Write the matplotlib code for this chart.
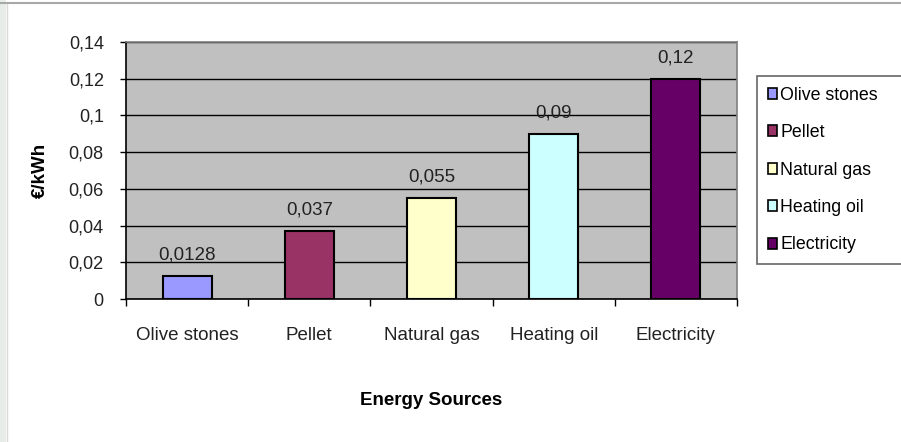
import matplotlib.pyplot as plt
import matplotlib.patches as mpatches
import numpy as np

plt.rcParams['font.family'] = ['Liberation Sans', 'DejaVu Sans']

# Cost per kWh for each energy source
sources = ["Olive stones", "Pellet", "Natural gas", "Heating oil", "Electricity"]
costs = [0.0128, 0.037, 0.055, 0.09, 0.12]
colors = ["#9999FF", "#993366", "#FFFFCC", "#CCFFFF", "#660066"]
y_ticks = [0, 0.02, 0.04, 0.06, 0.08, 0.1, 0.12, 0.14]


def comma(v):
    s = ("%g" % v).replace(".", ",")
    return s


fig = plt.figure(figsize=(9.01, 4.42), dpi=100)
fig.patch.set_facecolor("white")

# thin frame around the chart object
fig.add_artist(mpatches.Rectangle((0, 0), 6 / 901, 1, transform=fig.transFigure,
                                  facecolor="#E8ECE8", edgecolor="none"))
fig.add_artist(plt.Line2D([6.5 / 901, 6.5 / 901], [0, 1 - 3 / 442], transform=fig.transFigure,
                          color="#D8D8D8", lw=1))
fig.add_artist(plt.Line2D([0, 1], [1 - 2.5 / 442, 1 - 2.5 / 442], transform=fig.transFigure,
                          color="#A8A8A8", lw=1.5))

ax = fig.add_axes([126 / 901, 1 - 299 / 442, (737 - 126) / 901, (299 - 42) / 442])
ax.set_facecolor("#C0C0C0")

x = np.arange(len(sources))
bars = ax.bar(x, costs, width=0.4, color=colors, edgecolor="black", linewidth=1.5,
              zorder=3, label=sources)

for xi, v in zip(x, costs):
    ax.annotate(comma(v), (xi, v), xytext=(0, 9), textcoords="offset points",
                ha="center", va="bottom", fontsize=13.5, color="#222222")

ax.set_xlim(-0.5, len(sources) - 0.5)
ax.set_ylim(0, 0.14)
ax.set_yticks(y_ticks)
ax.set_yticklabels([comma(t) for t in y_ticks], fontsize=13, color="#222222")
ax.yaxis.grid(True, color="black", lw=1, zorder=1)
ax.set_axisbelow(True)

ax.set_xticks(x)
ax.set_xticklabels(sources, fontsize=13.5, color="#222222")
ax.set_xticks(np.arange(-0.5, len(sources)), minor=True)
ax.tick_params(axis="x", which="major", length=0, pad=20)
ax.tick_params(axis="x", which="minor", length=5, width=1, direction="out")
ax.tick_params(axis="y", length=4, width=1, direction="out", pad=12)

for side in ("top", "right"):
    ax.spines[side].set_color("#808080")
    ax.spines[side].set_linewidth(1.2)
for side in ("left", "bottom"):
    ax.spines[side].set_color("black")
    ax.spines[side].set_linewidth(1.2)

ax.set_xlabel("Energy Sources", fontsize=13.5, fontweight="bold", labelpad=35)
ax.set_ylabel("€/kWh", fontsize=13.5, fontweight="bold", labelpad=14)

# legend box runs off the right edge of the figure
handles = [mpatches.Patch(facecolor=c, edgecolor="black", lw=1.2) for c in colors]
leg = fig.legend(handles, sources, loc="upper left", mode="expand",
                 bbox_to_anchor=(757 / 901, 1 - 263 / 442, 160 / 901, (263 - 76) / 442),
                 borderaxespad=0,
                 fontsize=12.8, frameon=True, fancybox=False, shadow=False,
                 handlelength=0.55, handleheight=0.55, handletextpad=0.15,
                 labelspacing=1.15, borderpad=0.6)
leg.get_frame().set_edgecolor("#404040")
leg.get_frame().set_linewidth(1.2)

fig.savefig("out.png", dpi=100, facecolor=fig.get_facecolor())
